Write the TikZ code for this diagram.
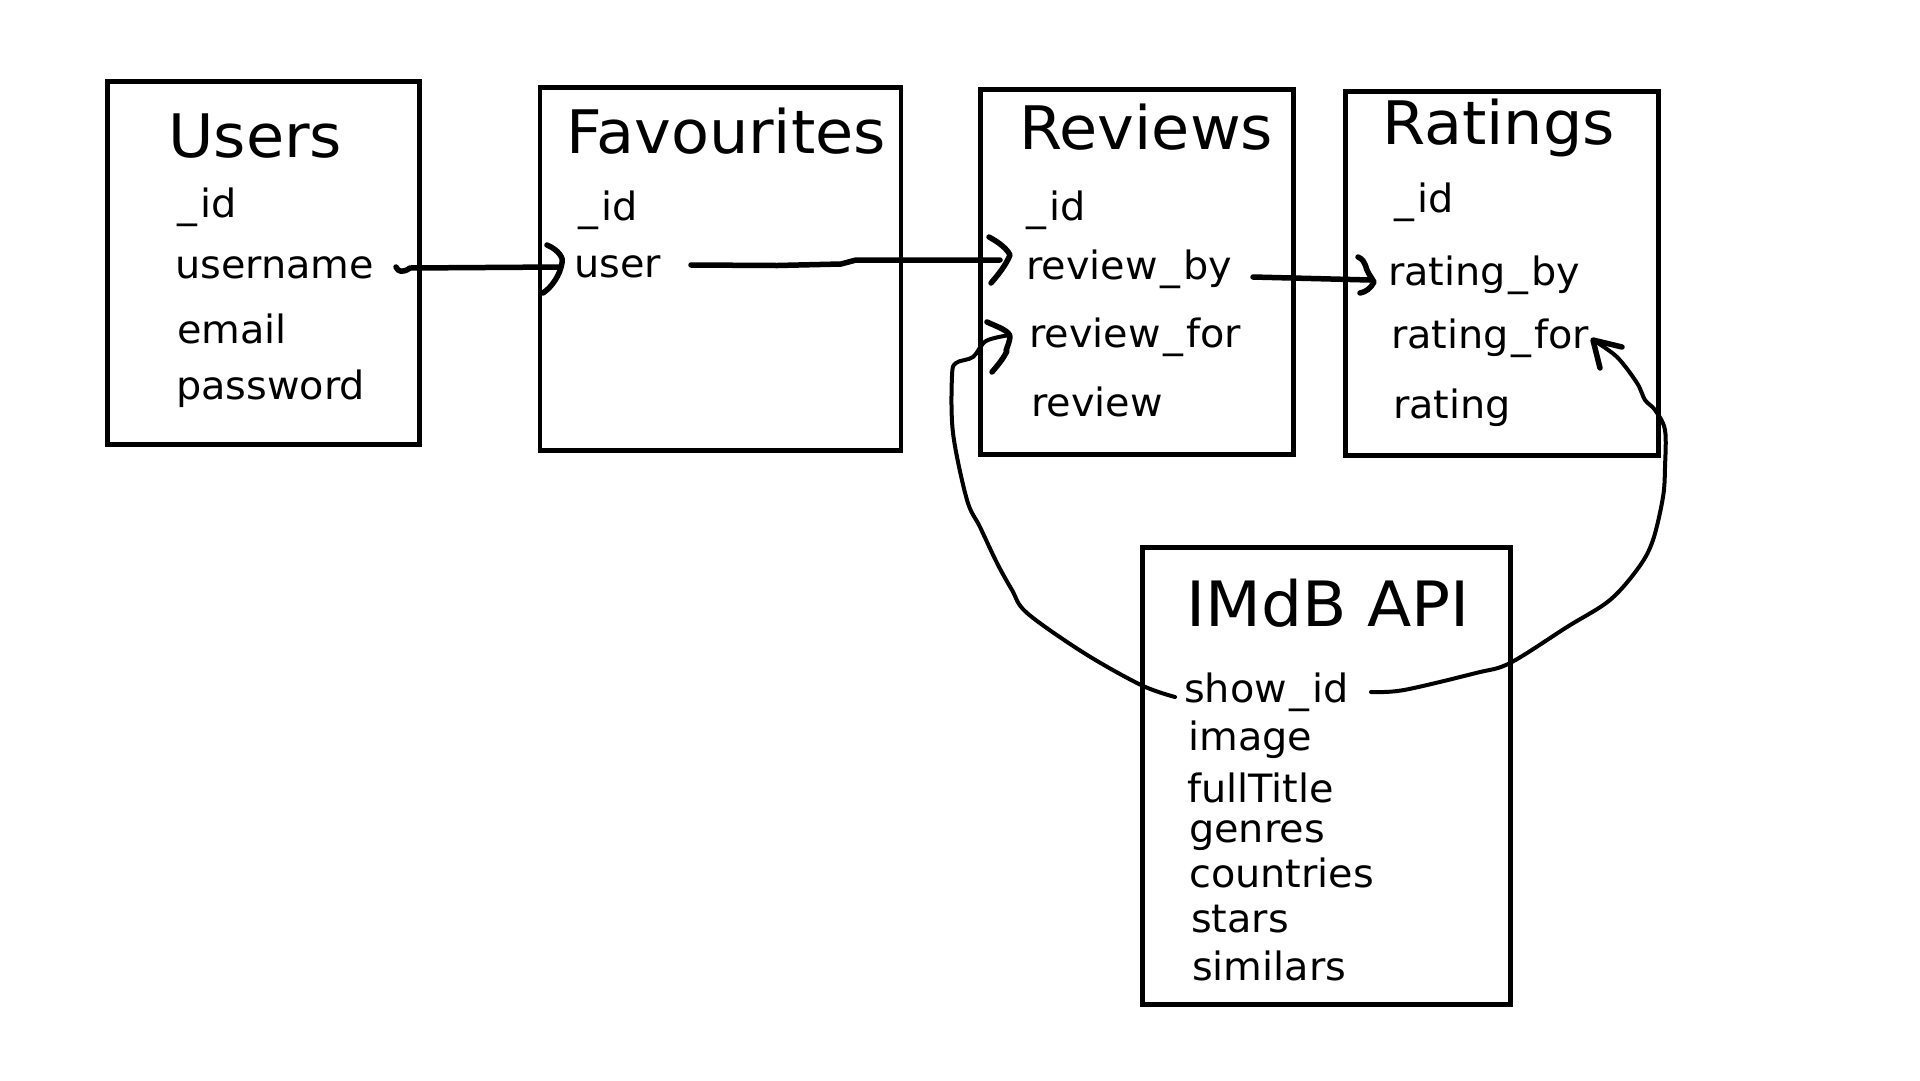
\documentclass[tikz,border=0pt]{standalone}
\usepackage{fontspec}
\setmainfont{DejaVu Sans}
\newfontfamily\ttlfont[FakeStretch=1.035]{DejaVu Sans}
\newfontfamily\fldfont[FakeStretch=1.02]{DejaVu Sans}
\newcommand\usc{\kern2.5pt\_\kern3pt}
\usetikzlibrary{calc}
\begin{document}
\begin{tikzpicture}[x=1pt,y=-1pt,
  tbl/.style={draw, line width=5pt, anchor=north west, inner sep=0pt},
  ttl/.style={anchor=base west, inner sep=0pt, font=\ttlfont\fontsize{60}{70}\selectfont},
  fld/.style={anchor=base west, inner sep=0pt, font=\fldfont\fontsize{39}{46}\selectfont},
  conn/.style={line width=5.5pt, line cap=round, line join=round},
  curv/.style={line width=4pt, line cap=round, line join=round}]
\fill[white] (0,0) rectangle (1920,1080);
\useasboundingbox (0,0) rectangle (1920,1080);

% tables
\node[tbl, minimum width=312pt, minimum height=363pt] (usersbox) at (104.5,79) {};
\node[tbl, line width=4.5pt, minimum width=361pt, minimum height=363pt] (favbox) at (537.5,85) {};
\node[tbl, minimum width=313pt, minimum height=365pt] (revbox) at (977.5,87) {};
\node[tbl, minimum width=313pt, minimum height=364pt] (ratbox) at (1342.5,89) {};
\node[tbl, line width=5.5pt, minimum width=368pt, minimum height=457pt] (imdbbox) at (1139.5,544.5) {};

% Users
\node[ttl] (usersT) at (168,157) {Users};
\node[fld] (uid) at (175,217) {\usc id};
\node[fld] (username) at (175,278) {username};
\node[fld] (email) at (177,343) {email};
\node[fld] (password) at (176,399) {password};
% Favourites
\node[ttl] (favT) at (566,153) {Favourites};
\node[fld] (fid) at (576,220) {\usc id};
\node[fld] (user) at (574,277) {user};
% Reviews
\node[ttl] (revT) at (1019,149) {Reviews};
\node[fld] (rid) at (1024,220) {\usc id};
\node[fld] (reviewby) at (1026,279) {review\usc by};
\node[fld] (reviewfor) at (1029,347) {review\usc for};
\node[fld] (review) at (1031,416) {review};
% Ratings
\node[ttl] (ratT) at (1382,144) {Ratings};
\node[fld] (ratid) at (1392,212) {\usc id};
\node[fld] (ratingby) at (1388,285) {rating\usc by};
\node[fld] (ratingfor) at (1391,348) {rating\usc for};
\node[fld] (rating) at (1393,418) {rating};
% IMdB API
\node[ttl, font=\ttlfont\fontsize{62.5}{72}\selectfont] (imdbT) at (1186,626) {IMdB API};
\node[fld] (showid) at (1184,702) {show\usc id};
\node[fld] (image) at (1188,750) {image};
\node[fld] (fulltitle) at (1187,802) {fullTitle};
\node[fld] (genres) at (1189,842) {genres};
\node[fld] (countries) at (1189,887) {countries};
\node[fld] (stars) at (1191,932) {stars};
\node[fld] (similars) at (1192,980) {similars};

% connector end points
\coordinate (c1s) at ($(username.base west)+(221,-11)$);
\coordinate (c1e) at ($(user.base west)+(-15,-10)$);
\coordinate (c1t) at ($(user.base west)+(-12,-14)$);
\coordinate (c2s) at ($(user.base west)+(117,-12)$);
\coordinate (c2e) at ($(reviewby.base west)+(-26,-19)$);
\coordinate (c2t) at ($(reviewby.base west)+(-16,-24)$);
\coordinate (c3s) at ($(reviewby.base west)+(227,-2)$);
\coordinate (c3e) at ($(ratingby.base west)+(-18,-5)$);
\coordinate (c3t) at ($(ratingby.base west)+(-14,-3)$);
\coordinate (c4s) at ($(showid.base west)+(-9,-5)$);
\coordinate (c4t) at ($(reviewfor.base west)+(-19,-12)$);
\coordinate (c5s) at ($(showid.base west)+(187,-10)$);
\coordinate (c5t) at ($(ratingfor.base west)+(202,-8)$);

% username -> user
\draw[conn] (c1s) .. controls (398,272) and (403,273) .. (410,268) -- (c1e);
\begin{scope}[shift={(c1t)}]
\draw[conn] (-15,-18) .. controls (-3,-13) and (2,-4) .. (0,0) .. controls (-2,12) and (-10,24) .. (-19,30);
\end{scope}

% user -> review_by
\draw[conn] (c2s) -- (777,265.5) -- (841,264) -- (856,260) -- (c2e);
\begin{scope}[shift={(c2t)}]
\draw[conn] (-21,-18) .. controls (-10,-12) and (-3,-6) .. (0,0) .. controls (-4,10) and (-12,20) .. (-19,28);
\end{scope}

% review_by -> rating_by
\draw[conn] (c3s) -- (c3e);
\begin{scope}[shift={(c3t)}]
\draw[conn] (-16,-25) .. controls (-7,-21) and (-9,-13) .. (-5,-8) -- (0,0) .. controls (-3,6) and (-8,10) .. (-14,11);
\end{scope}

% show_id -> review_for
\draw[curv] plot[smooth, tension=0.55] coordinates {(c4s) (1141,685) (1084,653) (1027,613) (1012,590) (997,563) (980,527) (967,500) (953,433) (952,376) (956,363) (973,357) (986,341) (c4t)};
\begin{scope}[shift={(c4t)}]
\draw[conn] (-23,-13) .. controls (-12,-8) and (0,-4) .. (0,2) .. controls (-1,10) and (-6,18) .. (-3,16) .. controls (-8,26) and (-14,32) .. (-18,37);
\end{scope}

% show_id -> rating_for
\draw[curv] plot[smooth, tension=0.55] coordinates {(c5s) (1404,690) (1476,673) (1510,663) (1567,627) (1610,600) (1639,567) (1653,540) (1663,497) (1665,467) (1665,430) (1655,410) (1645,400) (1637,383) (1617,357) (c5t)};
\begin{scope}[shift={(c5t)}]
\draw[conn] (29,7) -- (0,0) -- (7,28);
\end{scope}
\end{tikzpicture}
\end{document}
